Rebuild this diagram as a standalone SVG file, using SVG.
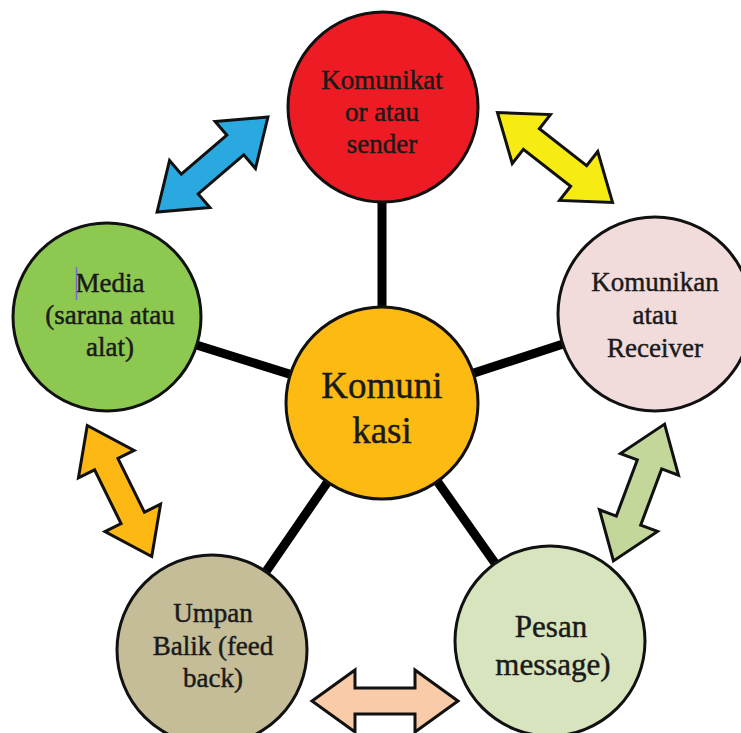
<svg xmlns="http://www.w3.org/2000/svg" width="741" height="733" viewBox="0 0 741 733">
  <style>
    .node circle { stroke: #111; stroke-width: 3; }
    .lbl { font-family: "Liberation Serif", "Times New Roman", "DejaVu Serif", serif; fill: #1a1a1a; stroke: #1a1a1a; stroke-width: 0.45; text-anchor: middle; font-size: 27px; }
    .conn line { stroke: #000; stroke-width: 9; }
    .arr { stroke: #111; stroke-width: 3; stroke-linejoin: miter; }
  </style>
  <defs>
    <path id="dbl" d="M73,0 L30,-31 L30,-13 L-30,-13 L-30,-31 L-73,0 L-30,31 L-30,13 L30,13 L30,31 Z"/>
  </defs>
  <rect width="741" height="733" fill="#ffffff"/>

  <g id="connectors" class="conn">
    <line x1="382" y1="403" x2="382" y2="110"/>
    <line x1="382" y1="403" x2="107" y2="317"/>
    <line x1="382" y1="403" x2="655" y2="314"/>
    <line x1="382" y1="403" x2="212" y2="650"/>
    <line x1="382" y1="403" x2="550" y2="641"/>
  </g>

  <g id="arrows">
    <use href="#dbl" class="arr" fill="#2AA8E0" transform="translate(212.5,164.5) rotate(-40.6)"/>
    <use href="#dbl" class="arr" fill="#F6EC13" transform="translate(555,157.5) rotate(38)"/>
    <use href="#dbl" class="arr" fill="#C3D79B" transform="translate(639,492.5) rotate(-69.5)"/>
    <use href="#dbl" class="arr" fill="#FDB814" transform="translate(119.5,491) rotate(63.8)"/>
    <use href="#dbl" class="arr" fill="#FACBA8" transform="translate(385,701)"/>
  </g>

  <g id="node-sender" class="node">
    <circle cx="383" cy="107" r="95" fill="#ED1C24"/>
    <text class="lbl" x="382" y="89">Komunikat</text>
    <text class="lbl" x="382" y="121">or atau</text>
    <text class="lbl" x="382" y="153">sender</text>
  </g>

  <g id="node-media" class="node">
    <circle cx="107" cy="317" r="94" fill="#8DC850"/>
    <text class="lbl" x="110" y="292">Media</text>
    <text class="lbl" x="110" y="324">(sarana atau</text>
    <text class="lbl" x="110" y="356">alat)</text>
    <line x1="76.5" y1="267" x2="76.5" y2="300" stroke="#7A6AC8" stroke-width="1.5"/>
  </g>

  <g id="node-komunikasi" class="node">
    <circle cx="382" cy="403" r="96" fill="#FDBA13"/>
    <text class="lbl" x="382" y="398" style="font-size:37px">Komuni</text>
    <text class="lbl" x="382" y="443" style="font-size:37px">kasi</text>
  </g>

  <g id="node-receiver" class="node">
    <circle cx="655" cy="314" r="97" fill="#F2DCDB"/>
    <text class="lbl" x="655" y="291">Komunikan</text>
    <text class="lbl" x="655" y="324">atau</text>
    <text class="lbl" x="655" y="357">Receiver</text>
  </g>

  <g id="node-pesan" class="node">
    <circle cx="550" cy="641" r="95" fill="#D7E4BD"/>
    <text class="lbl" x="551" y="637" style="font-size:31px">Pesan</text>
    <text class="lbl" x="553" y="675" style="font-size:31px">message)</text>
  </g>

  <g id="node-umpan" class="node">
    <circle cx="212" cy="650" r="95" fill="#C4BD97"/>
    <text class="lbl" x="213" y="622">Umpan</text>
    <text class="lbl" x="213" y="655">Balik (feed</text>
    <text class="lbl" x="213" y="687">back)</text>
  </g>
</svg>
